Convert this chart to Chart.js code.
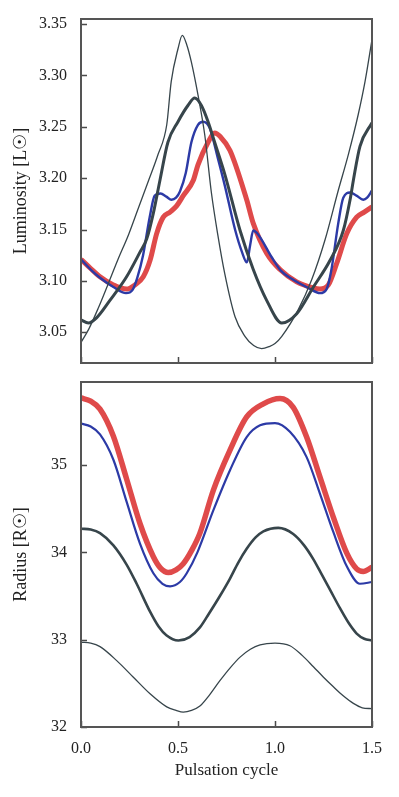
<!DOCTYPE html>
<html>
<head>
<meta charset="UTF-8">
<script src="https://cdn.jsdelivr.net/npm/chart.js@4.4.1/dist/chart.umd.min.js"></script>
<style>
  body { margin: 0; background: #fff; }
  #wrap { position: relative; width: 399px; height: 797px; }
  #top { position: absolute; left: 0; top: 0; width: 399px; height: 370px; }
  #bot { position: absolute; left: 0; top: 370px; width: 399px; height: 427px; }
</style>
</head>
<body>
<div id="wrap">
  <div id="top"><canvas id="c_lum"></canvas></div>
  <div id="bot"><canvas id="c_rad"></canvas></div>
</div>
<script>
// phase ticks and value ticks
var phaseTicks = [0, 0.5, 1.0, 1.5];
var lumTicks = [3.05, 3.10, 3.15, 3.20, 3.25, 3.30, 3.35];
var radTicks = [32, 33, 34, 35];

// luminosity, top panel (log L)
var lumThinX = [0, 0.04, 0.088, 0.14, 0.191, 0.245, 0.294, 0.345, 0.397, 0.442, 0.465, 0.5, 0.522, 0.545, 0.569, 0.603, 0.638, 0.672, 0.705, 0.741, 0.794, 0.845, 0.89, 0.931, 0.97, 1.0, 1.035, 1.12, 1.189, 1.258, 1.326, 1.378, 1.429, 1.464, 1.5];
var lumThinY = [3.040, 3.053, 3.073, 3.097, 3.121, 3.145, 3.170, 3.196, 3.223, 3.252, 3.294, 3.326, 3.339, 3.330, 3.313, 3.281, 3.242, 3.186, 3.145, 3.107, 3.065, 3.046, 3.037, 3.034, 3.036, 3.039, 3.046, 3.072, 3.101, 3.140, 3.188, 3.223, 3.262, 3.294, 3.335];

var lumThickX = [0, 0.038, 0.08, 0.149, 0.235, 0.304, 0.339, 0.373, 0.407, 0.448, 0.5, 0.552, 0.586, 0.62, 0.655, 0.689, 0.741, 0.82, 0.888, 0.957, 1.035, 1.112, 1.198, 1.284, 1.352, 1.387, 1.404, 1.438, 1.5];
var lumThickY = [3.062, 3.059, 3.064, 3.081, 3.104, 3.128, 3.141, 3.166, 3.198, 3.235, 3.255, 3.271, 3.278, 3.271, 3.255, 3.235, 3.204, 3.149, 3.111, 3.081, 3.059, 3.068, 3.094, 3.120, 3.149, 3.179, 3.198, 3.231, 3.254];

var lumBlueX = [0, 0.05, 0.098, 0.167, 0.232, 0.265, 0.29, 0.32, 0.354, 0.38, 0.41, 0.44, 0.466, 0.49, 0.51, 0.54, 0.569, 0.603, 0.629, 0.663, 0.706, 0.741, 0.794, 0.83, 0.855, 0.872, 0.888, 0.914, 0.983, 1.03, 1.086, 1.172, 1.232, 1.266, 1.29, 1.326, 1.352, 1.387, 1.42, 1.455, 1.475, 1.5];
var lumBlueY = [3.121, 3.111, 3.103, 3.094, 3.088, 3.091, 3.103, 3.125, 3.162, 3.183, 3.185, 3.182, 3.179, 3.181, 3.187, 3.205, 3.235, 3.252, 3.255, 3.249, 3.219, 3.193, 3.150, 3.128, 3.118, 3.135, 3.149, 3.145, 3.123, 3.110, 3.102, 3.093, 3.088, 3.092, 3.110, 3.156, 3.181, 3.186, 3.183, 3.179, 3.181, 3.188];

var lumRedX = [0, 0.05, 0.098, 0.167, 0.235, 0.278, 0.321, 0.356, 0.39, 0.424, 0.459, 0.493, 0.527, 0.579, 0.603, 0.655, 0.689, 0.72, 0.768, 0.854, 0.888, 0.957, 1.026, 1.112, 1.198, 1.232, 1.275, 1.318, 1.37, 1.421, 1.46, 1.5];
var lumRedY = [3.121, 3.112, 3.104, 3.096, 3.092, 3.096, 3.104, 3.120, 3.146, 3.162, 3.167, 3.173, 3.183, 3.198, 3.213, 3.235, 3.244, 3.240, 3.227, 3.179, 3.156, 3.127, 3.111, 3.099, 3.093, 3.092, 3.096, 3.117, 3.146, 3.162, 3.167, 3.172];

// radius, bottom panel
var radThinX = [0, 0.05, 0.098, 0.184, 0.27, 0.356, 0.442, 0.49, 0.527, 0.57, 0.613, 0.66, 0.716, 0.77, 0.82, 0.873, 0.923, 1.0, 1.077, 1.14, 1.198, 1.25, 1.301, 1.35, 1.404, 1.45, 1.5];
var radThinY = [32.97, 32.96, 32.92, 32.76, 32.57, 32.38, 32.23, 32.19, 32.17, 32.19, 32.24, 32.36, 32.53, 32.68, 32.80, 32.89, 32.94, 32.96, 32.93, 32.82, 32.69, 32.57, 32.46, 32.36, 32.27, 32.22, 32.21];

var radThickX = [0, 0.05, 0.098, 0.167, 0.235, 0.287, 0.356, 0.4, 0.44, 0.502, 0.56, 0.613, 0.66, 0.716, 0.768, 0.81, 0.854, 0.9, 0.94, 1.017, 1.094, 1.15, 1.198, 1.24, 1.284, 1.335, 1.38, 1.421, 1.46, 1.5];
var radThickY = [34.27, 34.26, 34.22, 34.08, 33.86, 33.64, 33.32, 33.15, 33.05, 32.99, 33.03, 33.14, 33.30, 33.50, 33.70, 33.88, 34.04, 34.17, 34.24, 34.28, 34.21, 34.08, 33.92, 33.75, 33.57, 33.36, 33.19, 33.07, 33.01, 32.99];

var radBlueX = [0, 0.05, 0.098, 0.167, 0.235, 0.304, 0.373, 0.42, 0.459, 0.51, 0.545, 0.6, 0.682, 0.768, 0.854, 0.923, 1.0, 1.077, 1.163, 1.232, 1.301, 1.37, 1.438, 1.5];
var radBlueY = [35.474, 35.44, 35.35, 35.06, 34.58, 34.10, 33.76, 33.64, 33.61, 33.66, 33.76, 34.0, 34.48, 34.94, 35.32, 35.455, 35.48, 35.38, 35.09, 34.67, 34.23, 33.84, 33.64, 33.66];

var radRedX = [0, 0.05, 0.098, 0.167, 0.235, 0.304, 0.373, 0.41, 0.45, 0.49, 0.527, 0.57, 0.613, 0.682, 0.768, 0.854, 0.94, 1.026, 1.094, 1.163, 1.232, 1.301, 1.37, 1.421, 1.455, 1.5];
var radRedY = [35.767, 35.73, 35.64, 35.33, 34.84, 34.33, 33.95, 33.82, 33.77, 33.80, 33.87, 34.02, 34.22, 34.71, 35.17, 35.55, 35.70, 35.76, 35.66, 35.32, 34.86, 34.40, 33.99, 33.81, 33.78, 33.83];

var GRAY = '#37454b', BLUE = '#2c3aa6', RED = '#df4a4a';
var SERIF = "'Liberation Serif', 'Times New Roman', serif";

function pts(xs, ys) {
  return xs.map(function (x, i) { return {x: x, y: ys[i]}; });
}

function line(xs, ys, color, w) {
  return {
    data: pts(xs, ys), borderColor: color, borderWidth: w,
    pointRadius: 0, fill: false, cubicInterpolationMode: 'monotone', clip: 0
  };
}

// frame round the plot plus inward tick marks
var framePlugin = {
  id: 'frame',
  afterDraw: function (chart) {
    var ctx = chart.ctx, a = chart.chartArea, sx = chart.scales.x, sy = chart.scales.y;
    ctx.save();
    ctx.strokeStyle = '#4a4a4a';
    ctx.lineWidth = 1.5;
    ctx.beginPath();
    sy.ticks.forEach(function (t) {
      var y = Math.round(sy.getPixelForValue(t.value)) + 0.5;
      ctx.moveTo(a.left, y); ctx.lineTo(a.left + 6, y);
    });
    sx.ticks.forEach(function (t) {
      var x = Math.round(sx.getPixelForValue(t.value)) + 0.5;
      ctx.moveTo(x, a.bottom); ctx.lineTo(x, a.bottom - 6);
    });
    ctx.stroke();
    ctx.lineWidth = 2;
    ctx.strokeStyle = '#555';
    ctx.strokeRect(a.left, a.top, a.right - a.left, a.bottom - a.top);
    ctx.restore();
  }
};

function makeChart(id, datasets, yMin, yMax, yTicks, yTitle, yFmt, showX, padTop, xHeight) {
  return new Chart(document.getElementById(id), {
    type: 'line',
    data: {datasets: datasets},
    plugins: [framePlugin],
    options: {
      responsive: true,
      maintainAspectRatio: false,
      animation: false,
      events: [],
      layout: {padding: {top: padTop, right: 27, left: 0, bottom: 0}},
      plugins: {legend: {display: false}, tooltip: {enabled: false}},
      scales: {
        x: {
          type: 'linear', min: 0, max: 1.5,
          grid: {display: false, drawTicks: false}, border: {display: false},
          afterBuildTicks: function (s) { s.ticks = phaseTicks.map(function (v) { return {value: v}; }); },
          afterFit: function (s) { s.height = xHeight; s.paddingLeft = 0; s.paddingRight = 0; },
          ticks: {
            display: showX, padding: 12, color: '#222', maxRotation: 0,
            font: {family: SERIF, size: 16},
            callback: function (v) { return v.toFixed(1); }
          },
          title: {
            display: showX, text: 'Pulsation cycle', color: '#222',
            font: {family: SERIF, size: 17}, padding: {top: 0, bottom: 16}
          }
        },
        y: {
          type: 'linear', min: yMin, max: yMax,
          grid: {display: false, drawTicks: false}, border: {display: false},
          afterBuildTicks: function (s) { s.ticks = yTicks.map(function (v) { return {value: v}; }); },
          afterFit: function (s) { s.width = 81; s.paddingTop = 0; s.paddingBottom = 0; },
          ticks: {
            padding: 14, color: '#222',
            font: {family: SERIF, size: 16},
            callback: yFmt
          },
          title: {
            display: true, text: yTitle, color: '#222',
            font: {family: SERIF, size: 18}, padding: {top: 10, bottom: 0}
          }
        }
      }
    }
  });
}

makeChart('c_lum', [
  line(lumThinX, lumThinY, GRAY, 1.3),
  line(lumThickX, lumThickY, GRAY, 3),
  line(lumBlueX, lumBlueY, BLUE, 2.4),
  line(lumRedX, lumRedY, RED, 5)
], 3.02, 3.355, lumTicks, 'Luminosity [L\u2609]', function (v) { return v.toFixed(2); }, false, 19, 7);

makeChart('c_rad', [
  line(radThinX, radThinY, GRAY, 1.3),
  line(radThickX, radThickY, GRAY, 2.6),
  line(radBlueX, radBlueY, BLUE, 2.2),
  line(radRedX, radRedY, RED, 5.5)
], 32.0, 35.95, radTicks, 'Radius [R\u2609]', function (v) { return String(v); }, true, 12, 70);
</script>
</body>
</html>
